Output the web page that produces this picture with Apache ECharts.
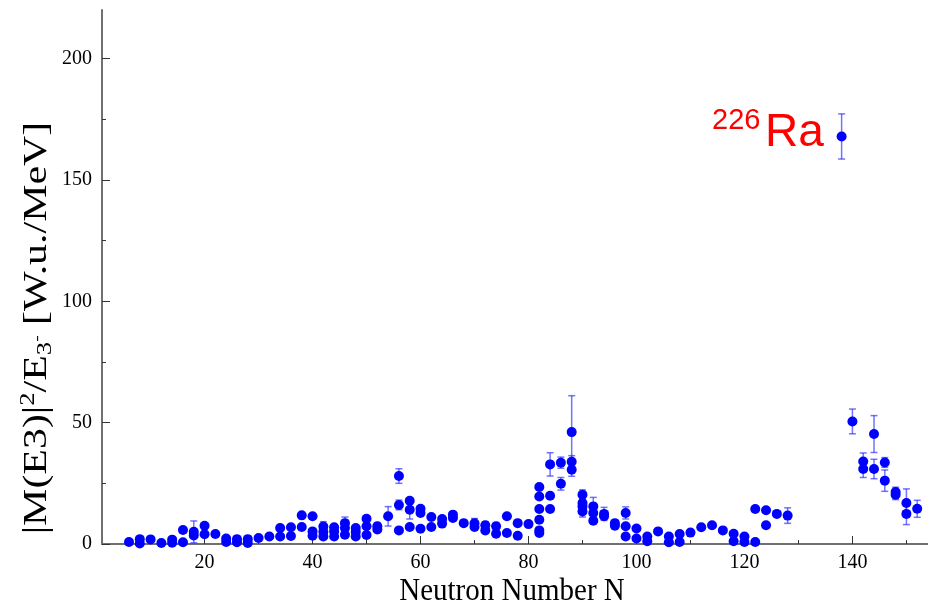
<!DOCTYPE html>
<html>
<head>
<meta charset="utf-8">
<script src="https://cdn.jsdelivr.net/npm/echarts@6/dist/echarts.min.js"></script>
<style>html,body{margin:0;padding:0;background:#fff;}#c{width:928px;height:604px;}</style>
</head>
<body>
<div id="c"></div>
<script>
// Neutron number N, B value [W.u./MeV], error (0 = no visible bar)
const neutronN = [
  6, 8, 8, 10, 12, 14, 14, 16, 16, 18, 18, 20, 20, 22, 24, 24, 26, 26, 28, 28, 30, 32,
  34, 34, 36, 36, 38, 38, 40, 40, 40, 42, 42, 42, 44, 44, 44, 46, 46, 46, 48, 48, 48,
  50, 50, 50, 52, 52, 54, 56, 56, 56, 58, 58, 58, 60, 60, 60, 62, 62, 64, 64, 66, 66,
  68, 70, 70, 72, 72, 74, 74, 76, 76, 78, 78, 80,
  82, 82, 82, 82, 82, 82, 84, 84, 84, 86, 86, 88, 88, 88, 90, 90, 90, 90, 92, 92, 92,
  94, 94, 96, 96, 98, 98, 98, 100, 100, 102, 102, 104, 106, 106, 108, 108, 110, 112,
  114, 116, 118, 118, 120, 120, 122, 122, 124, 124, 126, 128,
  138, 140, 142, 142, 144, 144, 146, 146, 148, 148, 150, 150, 152
];
const strength = [
  0.8, 2.0, 0.2, 1.9, 0.4, 1.8, 0.5, 5.8, 0.7, 5.0, 3.5, 7.5, 4.0, 4.1, 2.3, 0.8, 2.0, 0.7, 2.0, 0.4, 2.5, 3.1,
  6.6, 3.1, 6.9, 3.3, 11.8, 7.0, 11.4, 5.2, 3.4, 7.2, 5.0, 3.1, 6.9, 5.2, 3.1, 8.6, 6.6, 3.8, 6.6, 4.9, 3.1,
  10.4, 7.3, 3.7, 7.3, 6.0, 11.4, 28.0, 16.1, 5.6, 17.8, 14.1, 7.0, 14.5, 12.8, 6.3, 11.1, 7.0, 10.3, 8.4, 12.1, 10.7,
  8.6, 8.5, 7.0, 7.7, 5.6, 7.3, 4.2, 11.4, 4.5, 8.6, 3.4, 8.2,
  23.5, 19.6, 14.4, 10.0, 5.6, 4.5, 32.8, 19.9, 14.4, 33.5, 24.8, 46.1, 33.9, 30.6, 20.3, 16.9, 15.5, 13.4, 15.5, 12.8, 9.6,
  12.4, 11.4, 8.6, 7.5, 12.8, 7.3, 3.1, 6.4, 2.3, 3.1, 1.1, 5.2, 3.1, 0.7, 4.1, 0.8, 4.7, 6.9,
  7.7, 5.6, 4.2, 1.1, 3.1, 0.8, 14.4, 0.8, 13.9, 7.7, 12.4, 11.7,
  167.9, 50.5, 34.0, 30.9, 45.3, 30.9, 33.6, 26.1, 21.4, 20.3, 16.9, 12.4, 14.5
];
const errors = [
  0, 0, 0, 0, 0, 0, 0, 0, 0, 4.5, 0, 0, 0, 0, 0, 0, 0, 0, 0, 0, 0, 0,
  0, 0, 0, 0, 0, 0, 0, 0, 0, 2.0, 0, 0, 0, 0, 0, 2.5, 0, 0, 0, 0, 0,
  0, 0, 0, 1.5, 0, 4.0, 3.0, 2.0, 0, 0, 3.8, 0, 0, 0, 0, 0, 0, 0, 0, 0, 0,
  0, 2.0, 0, 1.5, 0, 1.5, 0, 0, 0, 0, 0, 0,
  0, 0, 0, 0, 0, 0, 4.8, 0, 0, 2.3, 2.6, 15.0, 2.5, 2.7, 2.0, 0, 0, 2.3, 3.7, 0, 0,
  2.7, 0, 0, 0, 2.5, 0, 0, 0, 0, 0, 0, 0, 0, 0, 0, 0, 0, 0,
  0, 0, 0, 0, 0, 0, 0, 0, 0, 0, 0, 3.2,
  9.3, 5.1, 3.5, 3.5, 7.6, 4.0, 2.0, 4.4, 2.0, 2.0, 5.8, 4.4, 3.5
];
const xMajorTicks = [20, 40, 60, 80, 100, 120, 140];
const xMinorTicks = [10, 30, 50, 70, 90, 110, 130, 150];
const yMajorTicks = [0, 50, 100, 150, 200];
const yMinorTicks = [25, 75, 125, 175];

const points = neutronN.map((n, i) => [n, strength[i]]);
const errData = [];
neutronN.forEach((n, i) => { if (errors[i] > 0) errData.push([n, strength[i], errors[i]]); });

const chart = echarts.init(document.getElementById('c'), null, {renderer: 'canvas'});
const serif = 'Liberation Serif';
const axisCol = '#707070';

chart.setOption({
  animation: false,
  backgroundColor: '#fff',
  grid: {left: 102, right: 0, top: 10, bottom: 60, containLabel: false},
  xAxis: [
    {type: 'value', min: 1, max: 154,
     axisLine: {show: true, onZero: false, lineStyle: {color: axisCol, width: 2}},
     axisTick: {show: true, inside: true, length: 8, customValues: xMajorTicks, lineStyle: {color: '#333', width: 1}},
     axisLabel: {show: true, customValues: xMajorTicks, margin: 9, color: '#000', fontFamily: serif, fontSize: 20},
     splitLine: {show: false}},
    {type: 'value', min: 1, max: 154, position: 'bottom',
     axisLine: {show: false, onZero: false},
     axisTick: {show: true, inside: true, length: 4, customValues: xMinorTicks, lineStyle: {color: '#333', width: 1}},
     axisLabel: {show: false}, splitLine: {show: false}}
  ],
  yAxis: [
    {type: 'value', min: 0, max: 220,
     axisLine: {show: true, onZero: false, lineStyle: {color: axisCol, width: 2}},
     axisTick: {show: true, inside: true, length: 8, customValues: yMajorTicks, lineStyle: {color: '#333', width: 1}},
     axisLabel: {show: true, customValues: yMajorTicks, margin: 10, color: '#000', fontFamily: serif, fontSize: 20},
     splitLine: {show: false}},
    {type: 'value', min: 0, max: 220, position: 'left',
     axisLine: {show: false, onZero: false},
     axisTick: {show: true, inside: true, length: 4, customValues: yMinorTicks, lineStyle: {color: '#333', width: 1}},
     axisLabel: {show: false}, splitLine: {show: false}}
  ],
  series: [
    {
      type: 'custom',
      data: errData,
      clip: true,
      z: 2,
      renderItem: function (params, api) {
        const x = api.value(0), y = api.value(1), e = api.value(2);
        const top = api.coord([x, y + e]);
        const bot = api.coord([x, Math.max(0, y - e)]);
        const hw = 3.5;
        const st = {stroke: 'rgba(40,40,255,0.65)', lineWidth: 1.5};
        return {
          type: 'group',
          children: [
            {type: 'line', shape: {x1: top[0], y1: top[1], x2: bot[0], y2: bot[1]}, style: st},
            {type: 'line', shape: {x1: top[0] - hw, y1: top[1], x2: top[0] + hw, y2: top[1]}, style: st},
            {type: 'line', shape: {x1: bot[0] - hw, y1: bot[1], x2: bot[0] + hw, y2: bot[1]}, style: st}
          ]
        };
      }
    },
    {
      type: 'scatter',
      data: points,
      symbol: 'circle',
      symbolSize: 10,
      z: 3,
      itemStyle: {color: '#0000ff', opacity: 1},
      emphasis: {disabled: true}
    }
  ],
  graphic: [
    {type: 'text', x: 512, y: 591, scaleY: 1.12, style: {
      text: 'Neutron Number N', textAlign: 'center', textVerticalAlign: 'middle',
      fontFamily: serif, fontSize: 29, fill: '#000'}},
    {type: 'text', x: 37, y: 328, rotation: Math.PI / 2, scaleX: 1.27, style: {
      text: '{n||M(E3)|}{sup|2}{n|/E}{sub|3}{ssup|-}{n| [W.u./MeV]}',
      textAlign: 'center', textVerticalAlign: 'middle', fill: '#000',
      rich: {
        n: {fontFamily: serif, fontSize: 33, fill: '#000', verticalAlign: 'middle', lineHeight: 38},
        sup: {fontFamily: serif, fontSize: 21, fill: '#000', verticalAlign: 'top', lineHeight: 38},
        sub: {fontFamily: serif, fontSize: 21, fill: '#000', verticalAlign: 'bottom', lineHeight: 38},
        ssup: {fontFamily: serif, fontSize: 15, fill: '#000', verticalAlign: 'middle', lineHeight: 38}
      }}},
    {type: 'text', style: {text: '226', x: 712, y: 121, textAlign: 'left', textVerticalAlign: 'middle',
      fontFamily: 'Liberation Sans', fontSize: 29, fill: '#ff0000'}},
    {type: 'text', style: {text: 'Ra', x: 765, y: 133, textAlign: 'left', textVerticalAlign: 'middle',
      fontFamily: 'Liberation Sans', fontSize: 46, fill: '#ff0000'}}
  ]
});
</script>
</body>
</html>
